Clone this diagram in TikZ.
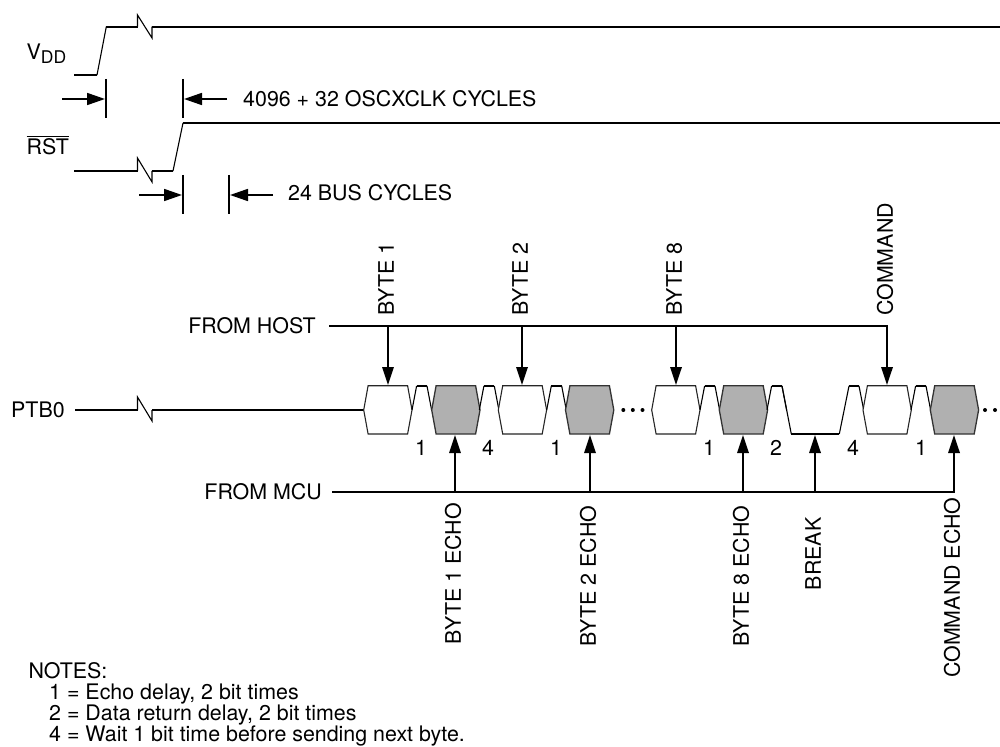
\documentclass[tikz,border=0pt]{standalone}
\usepackage{fontspec}
\setmainfont{TeX Gyre Heros}
\usetikzlibrary{arrows.meta}
\tikzset{
  x=1pt,y=-1pt,
  thick line/.style={line width=1.9pt,line join=miter},
  thin line/.style={line width=1.1pt,line join=miter},
  tick line/.style={line width=1.4pt},
  hexw/.style={fill=white,draw=black!85,line width=1.1pt,line join=miter},
  hexg/.style={fill=black!31,draw=black!80,line width=1.3pt,line join=miter},
  lbl/.style={inner sep=0pt,font=\fontsize{21.4}{25}\selectfont},
  vlbl/.style={lbl,rotate=90,anchor=base west},
  vlblb/.style={lbl,rotate=90,anchor=base east},
  sig/.style={line width=1.7pt,-{Triangle[length=18pt,width=11.5pt]}},
  dim/.style={line width=1.7pt,-{Triangle[length=18pt,width=12pt]}},
  dot/.style={circle,fill=black,inner sep=0pt,minimum size=4pt},
}
\newcommand{\hexa}[2]{\draw[#1] (#2,410) -- ++(4.4,-24.3) -- ++(39.5,0) -- ++(4.4,24.3) -- ++(-4.4,24) -- ++(-39.5,0) -- cycle;}
\newcommand{\peak}[1]{\draw[thin line] (#1,410) -- ++(4.6,-24) ; \draw[thick line] (#1+4.6,386) -- ++(10.4,0); \draw[thin line] (#1+15,386) -- ++(4.6,24);}
\begin{document}
\begin{tikzpicture}
\useasboundingbox (0,0) rectangle (1000,746);
% VDD
\draw[thick line] (74,75) -- (97,75);
\draw[thin line] (97,75) -- (106.3,26.7);
\draw[thick line] (106.3,26.7) -- (137.5,26.7);
\draw[thin line] (137.5,26.7) -- (137.5,15) -- (152,38) -- (152,26.7);
\draw[thick line] (152,26.7) -- (1000,26.7);
\node[lbl,anchor=base west] (vdd) at (26.5,59.3) {V\raisebox{-4.5pt}{\fontsize{17.5}{20}\selectfont DD}};
% dim 1
\coordinate (t1a) at (106,79); \coordinate (t1b) at (106,118);
\coordinate (t2a) at (183,79); \coordinate (t2b) at (183,118);
\draw[tick line] (t1a) -- (t1b);
\draw[tick line] (t2a) -- (t2b);
\coordinate (d1s) at (62,99); \coordinate (d1e) at (105,99);
\coordinate (d2s) at (227,99); \coordinate (d2e) at (184,99);
\draw[dim] (d1s) -- (d1e);
\draw[dim] (d2s) -- (d2e);
\node[lbl,anchor=base west] (cyc1) at (243,107) {4096 + 32 OSCXCLK CYCLES};
% RST
\draw[thick line] (74,171) -- (137.5,171);
\draw[thin line] (137.5,171) -- (137.5,158) -- (152,182) -- (152,171);
\draw[thick line] (152,171) -- (173,171);
\draw[thin line] (173,171) -- (183,123);
\draw[thick line] (183,123) -- (1000,123);
\node[lbl,anchor=base west] (rst) at (26.5,155) {RST};
\draw[line width=1.1pt] (26.5,136.5) -- (69,136.5);
% dim 2
\coordinate (t3a) at (183,175); \coordinate (t3b) at (183,214);
\coordinate (t4a) at (229,175); \coordinate (t4b) at (229,214);
\draw[tick line] (t3a) -- (t3b);
\draw[tick line] (t4a) -- (t4b);
\coordinate (d3s) at (139,195); \coordinate (d3e) at (182,195);
\coordinate (d4s) at (273,195); \coordinate (d4e) at (230,195);
\draw[dim] (d3s) -- (d3e);
\draw[dim] (d4s) -- (d4e);
\node[lbl,anchor=base west] (cyc2) at (288,200.5) {24 BUS CYCLES};
% PTB0
\node[lbl,anchor=base west] (ptb) at (11,417.5) {PTB0};
\draw[thick line] (75,410) -- (137.5,410);
\draw[thin line] (137.5,410) -- (137.5,397) -- (152,421) -- (152,410);
\draw[thick line] (152,410) -- (364,410);
% segments
\hexa{hexw}{363.7}
\peak{412.0}
\hexa{hexg}{431.7}
\peak{479.3}
\hexa{hexw}{498.3}
\peak{546.7}
\hexa{hexg}{565.5}
\node[dot] (d1) at (623.3,410) {};
\node[dot] (d2) at (632.8,410) {};
\node[dot] (d3) at (642.5,410) {};
\hexa{hexw}{651.7}
\peak{700}
\hexa{hexg}{719.3}
\peak{767}
\draw[thin line] (782,386) -- (791.3,434);
\draw[thick line] (791.3,434) -- (839.3,434);
\draw[thin line] (839.3,434) -- (849,386);
\draw[thick line] (849,386) -- (859,386);
\draw[thin line] (859,386) -- (863.7,410);
\hexa{hexw}{863}
\peak{911}
\hexa{hexg}{930.3}
\node[dot] (d4) at (985,410) {};
\node[dot] (d5) at (995,410) {};
% FROM HOST
\node[lbl,anchor=base east] (host) at (316,333.5) {FROM HOST};
\coordinate (hs) at (329,326); \coordinate (he) at (887.9,326);
\draw[thick line] (hs) -- (he);
\foreach \n/\x/\t in {a/388/BYTE 1,b/522/BYTE 2,c/676/BYTE 8,d/887/COMMAND}{
  \coordinate (h\n) at (\x,325.5);
  \coordinate (t\n) at (\x,385);
  \draw[sig] (h\n) -- (t\n);
  \node[vlbl] (l\n) at (\x+5.8,316) {\t};
}
% FROM MCU
\node[lbl,anchor=base east] (mcu) at (322,499.5) {FROM MCU};
\coordinate (ms) at (332,492); \coordinate (me) at (954.9,492);
\draw[thick line] (ms) -- (me);
\foreach \n/\x/\t/\y in {e/455/BYTE 1 ECHO/503,f/590/BYTE 2 ECHO/505.7,g/743/BYTE 8 ECHO/505.7,h/815/BREAK/517.3,i/954/COMMAND ECHO/497.3}{
  \coordinate (m\n) at (\x,492.5);
  \coordinate (u\n) at (\x,435);
  \draw[sig] (m\n) -- (u\n);
  \node[vlblb] (l\n) at (\x+5.8,\y) {\t};
}
% delay numbers
\foreach \n/\x/\t in {p/421/1,q/488/4,r/556/1,s/709/1,u/776/2,v/853/4,w/921/1}{
  \node[lbl,anchor=base] (n\n) at (\x,455) {\t};
}
% Notes
\node[lbl,anchor=base west] (n0) at (28.3,678) {NOTES:};
\node[lbl,anchor=base west] (n1) at (49,699) {1 = Echo delay, 2 bit times};
\node[lbl,anchor=base west] (n2) at (49,720) {2 = Data return delay, 2 bit times};
\node[lbl,anchor=base west] (n3) at (49,741) {4 = Wait 1 bit time before sending next byte.};
\end{tikzpicture}
\end{document}
